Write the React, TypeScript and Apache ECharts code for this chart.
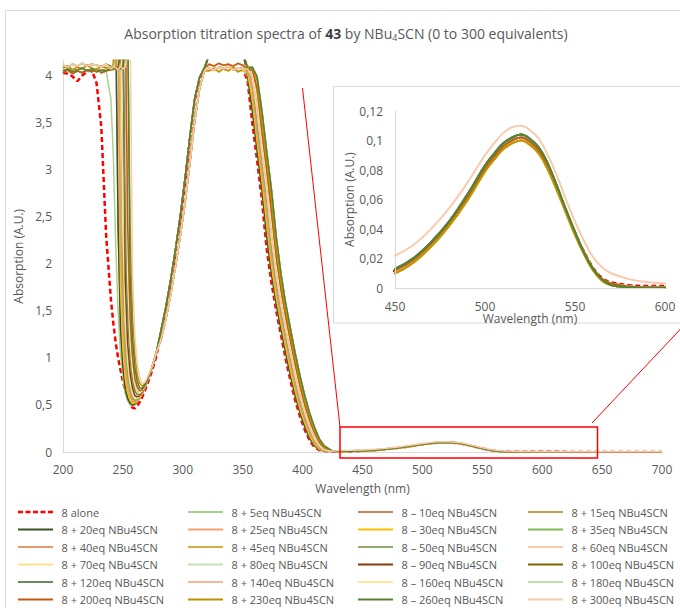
import { useEffect, useRef } from 'react';
import * as echarts from 'echarts';

// Wavelength grids (nm) for each spectral segment
const WL_P = [200, 204, 208, 212, 216, 220, 224, 228, 232, 236];
const WL_E = [240, 242, 244, 246, 248, 250, 252, 254, 256, 258, 260, 262, 264, 266, 268, 270, 274, 278];
const WL_B = [282, 286, 290, 294, 298, 302, 306, 310, 314, 318];
const WL_T = [322, 326, 330, 334, 338, 342, 346, 350];
const WL_C = [354, 358, 362, 366, 370, 374, 378, 382, 386, 390, 394, 398, 402, 406, 410, 414, 418, 424];
const WL_H = [430, 440, 450, 460, 470, 480, 490, 500, 505, 510, 515, 520, 525, 530, 535, 540, 545, 550, 555, 560, 565, 570, 580, 590, 600, 650, 700];

// 200-236 nm saturated plateau readings
const PLAT_A = [4.08, 4.1, 4.06, 4.09, 4.07, 4.11, 4.08, 4.06, 4.1, 4.08];
const PLAT_B = [4.05, 4.07, 4.04, 4.06, 4.08, 4.05, 4.07, 4.04, 4.06, 4.05];
const PLAT_C = [4.11, 4.09, 4.12, 4.1, 4.13, 4.1, 4.12, 4.11, 4.09, 4.12];
const PLAT_D = [4.03, 4.06, 4.02, 4.05, 4.03, 4.06, 4.04, 4.07, 4.03, 4.05];
const ALONE_P = [4.03, 4.02, 3.99, 3.94, 4.0, 4.04, 4.06, 3.92, 3.45, 2.3];

// 240-278 nm: falling edge and minimum
const ALONE_E = [1.62, 1.37, 1.16, 1.0, 0.87, 0.75, 0.66, 0.58, 0.52, 0.47, 0.465, 0.49, 0.53, 0.58, 0.64, 0.71, 0.85, 1.02];
const F_5EQ = [3.75, 3.15, 2.2, 1.5, 1.05, 0.8, 0.62, 0.54, 0.5, 0.49, 0.5, 0.53, 0.57, 0.62, 0.68, 0.745, 0.882, 1.06];
const F246 = [4.08, 4.1, 4.6, 2.4, 1.32, 0.91, 0.67, 0.57, 0.52, 0.5, 0.51, 0.535, 0.57, 0.617, 0.675, 0.744, 0.882, 1.06];
const F247 = [4.06, 4.09, 4.25, 4.6, 1.77, 1.1, 0.78, 0.63, 0.55, 0.515, 0.52, 0.54, 0.572, 0.618, 0.676, 0.745, 0.882, 1.06];
const F248 = [4.1, 4.07, 4.09, 4.6, 2.4, 1.35, 0.93, 0.7, 0.6, 0.54, 0.53, 0.55, 0.575, 0.62, 0.677, 0.745, 0.883, 1.06];
const F249 = [4.08, 4.06, 4.1, 4.25, 4.6, 1.8, 1.12, 0.81, 0.66, 0.57, 0.545, 0.56, 0.58, 0.622, 0.679, 0.746, 0.883, 1.06];
const F250 = [4.09, 4.07, 4.1, 4.08, 4.6, 2.4, 1.37, 0.96, 0.73, 0.62, 0.57, 0.57, 0.59, 0.625, 0.68, 0.747, 0.884, 1.06];
const F251 = [4.07, 4.1, 4.06, 4.09, 4.25, 4.6, 1.82, 1.15, 0.84, 0.68, 0.6, 0.585, 0.6, 0.63, 0.682, 0.749, 0.884, 1.06];
const F252 = [4.08, 4.06, 4.09, 4.07, 4.1, 4.6, 2.4, 1.4, 0.99, 0.75, 0.65, 0.61, 0.61, 0.64, 0.685, 0.75, 0.885, 1.062];
const F253 = [4.1, 4.08, 4.07, 4.09, 4.06, 4.25, 4.6, 1.85, 1.18, 0.86, 0.71, 0.64, 0.625, 0.65, 0.69, 0.752, 0.886, 1.063];
const F254 = [4.06, 4.09, 4.07, 4.1, 4.08, 4.09, 4.6, 2.4, 1.43, 1.01, 0.78, 0.69, 0.65, 0.66, 0.7, 0.755, 0.887, 1.064];
const F255 = [4.08, 4.1, 4.06, 4.08, 4.07, 4.1, 4.25, 4.6, 1.88, 1.2, 0.89, 0.75, 0.68, 0.675, 0.71, 0.76, 0.889, 1.065];
const F256 = [4.09, 4.07, 4.1, 4.06, 4.09, 4.08, 4.1, 4.6, 2.4, 1.45, 1.04, 0.82, 0.73, 0.7, 0.72, 0.77, 0.89, 1.065];
const F257 = [4.07, 4.1, 4.08, 4.06, 4.1, 4.07, 4.09, 4.25, 4.6, 1.9, 1.23, 0.93, 0.79, 0.73, 0.735, 0.78, 0.892, 1.066];

// 282-318 nm rising edge
const RISE_A = [1.3, 1.55, 1.84, 2.16, 2.52, 2.92, 3.36, 3.76, 3.98, 4.08];
const RISE_B = [1.2, 1.42, 1.68, 1.98, 2.3, 2.66, 3.08, 3.52, 3.86, 4.05];
const RISE_ALONE = [1.28, 1.52, 1.8, 2.12, 2.48, 2.88, 3.32, 3.74, 3.97, 4.06];

// 322-350 nm saturated top
const TOP_A = [4.08, 4.06, 4.09, 4.07, 4.1, 4.06, 4.08, 4.07];
const TOP_B = [4.05, 4.08, 4.04, 4.07, 4.05, 4.09, 4.04, 4.06];
const TOP_C = [4.12, 4.1, 4.13, 4.11, 4.12, 4.1, 4.13, 4.11];
const TOP_D = [4.22, 4.35, 4.3, 4.4, 4.32, 4.38, 4.3, 4.25];

// 354-424 nm falling edge
const R_S0 = [3.95, 3.5, 3.1, 2.68, 2.16, 1.8, 1.5, 1.24, 0.98, 0.75, 0.54, 0.37, 0.23, 0.12, 0.05, 0.02, 0.01, 0.006];
const R_S1 = [3.99, 3.63, 3.2, 2.79, 2.29, 1.89, 1.57, 1.3, 1.04, 0.8, 0.59, 0.41, 0.26, 0.14, 0.065, 0.025, 0.011, 0.006];
const R_S2 = [4.03, 3.75, 3.3, 2.9, 2.42, 1.98, 1.64, 1.37, 1.11, 0.86, 0.64, 0.45, 0.3, 0.17, 0.08, 0.03, 0.013, 0.007];
const R_S3 = [4.06, 3.86, 3.4, 3.0, 2.55, 2.07, 1.72, 1.43, 1.17, 0.92, 0.69, 0.49, 0.33, 0.2, 0.1, 0.04, 0.016, 0.007];
const R_S4 = [4.08, 3.95, 3.5, 3.1, 2.68, 2.16, 1.8, 1.5, 1.24, 0.98, 0.75, 0.54, 0.37, 0.23, 0.12, 0.05, 0.02, 0.008];
const R_S5 = [4.07, 3.99, 3.63, 3.2, 2.79, 2.29, 1.89, 1.57, 1.3, 1.04, 0.8, 0.59, 0.41, 0.26, 0.14, 0.065, 0.025, 0.009];
const R_S6 = [4.09, 4.03, 3.75, 3.3, 2.9, 2.42, 1.98, 1.64, 1.37, 1.11, 0.86, 0.64, 0.45, 0.3, 0.17, 0.08, 0.03, 0.01];
const R_S7 = [4.06, 4.06, 3.86, 3.4, 3.0, 2.55, 2.07, 1.72, 1.43, 1.17, 0.92, 0.69, 0.49, 0.33, 0.2, 0.1, 0.04, 0.011];
const R_S8 = [4.1, 4.08, 3.95, 3.5, 3.1, 2.68, 2.16, 1.8, 1.5, 1.24, 0.98, 0.75, 0.54, 0.37, 0.23, 0.12, 0.05, 0.013];
const R_S9 = [4.07, 4.09, 3.99, 3.63, 3.2, 2.79, 2.29, 1.89, 1.57, 1.3, 1.04, 0.8, 0.59, 0.41, 0.26, 0.14, 0.065, 0.016];

// 430-700 nm visible band
const HUMP_MAIN = [0.006, 0.008, 0.012, 0.019, 0.03, 0.044, 0.061, 0.081, 0.089, 0.096, 0.1, 0.102, 0.099, 0.093, 0.082, 0.068, 0.052, 0.037, 0.024, 0.013, 0.006, 0.003, 0.001, 0.0005, 0.0003, 0.0002, 0.0002];
const HUMP_HIGH = [0.007, 0.009, 0.013, 0.02, 0.031, 0.045, 0.063, 0.083, 0.091, 0.098, 0.102, 0.104, 0.101, 0.095, 0.084, 0.069, 0.053, 0.038, 0.024, 0.013, 0.006, 0.002, 0.0005, 0.0002, 0.0001, 0.0001, 0.0001];
const HUMP_LOW = [0.005, 0.007, 0.01, 0.017, 0.028, 0.042, 0.059, 0.079, 0.087, 0.094, 0.098, 0.1, 0.097, 0.091, 0.08, 0.066, 0.051, 0.036, 0.023, 0.012, 0.005, 0.002, 0.0005, 0.0002, 0.0001, 0.0001, 0.0001];
const HUMP_ALONE = [0.006, 0.008, 0.012, 0.019, 0.03, 0.044, 0.061, 0.081, 0.089, 0.096, 0.1, 0.102, 0.099, 0.093, 0.082, 0.068, 0.052, 0.037, 0.025, 0.014, 0.007, 0.004, 0.002, 0.0015, 0.0015, 0.001, 0.001];
const HUMP_300 = [0.015, 0.018, 0.022, 0.029, 0.04, 0.054, 0.071, 0.09, 0.098, 0.105, 0.109, 0.11, 0.107, 0.101, 0.09, 0.076, 0.06, 0.045, 0.032, 0.021, 0.014, 0.01, 0.006, 0.004, 0.003, 0.002, 0.002];

const NAMES = [
  '8 alone', '8 + 5eq NBu4SCN', '8 – 10eq NBu4SCN', '8 + 15eq NBu4SCN',
  '8 + 20eq NBu4SCN', '8 + 25eq NBu4SCN', '8 – 30eq NBu4SCN', '8 + 35eq NBu4SCN',
  '8 + 40eq NBu4SCN', '8 + 45eq NBu4SCN', '8 – 50eq NBu4SCN', '8 + 60eq NBu4SCN',
  '8 + 70eq NBu4SCN', '8 + 80eq NBu4SCN', '8 – 90eq NBu4SCN', '8 + 100eq NBu4SCN',
  '8 + 120eq NBu4SCN', '8 + 140eq NBu4SCN', '8 – 160eq NBu4SCN', '8 + 180eq NBu4SCN',
  '8 + 200eq NBu4SCN', '8 + 230eq NBu4SCN', '8 – 260eq NBu4SCN', '8 + 300eq NBu4SCN',
];
const COLORS = [
  '#FF0000', '#A9D18E', '#C4865E', '#BF9F50',
  '#375623', '#F5A26E', '#FFC000', '#7DBB55',
  '#E69A6B', '#D8AD45', '#8FAA72', '#F8CBAD',
  '#FFE08A', '#C5E0B4', '#843C0C', '#7F6000',
  '#6F8A5A', '#F4B898', '#FFE699', '#BFDDA8',
  '#C55A11', '#BF9000', '#548235', '#F8CBAD',
];
// segments used by each series: plateau, falling edge, rise, top, falling edge 2, visible band
const PARTS: number[][][] = [
  [ALONE_P, ALONE_E, RISE_ALONE, TOP_A, R_S0, HUMP_ALONE],
  [PLAT_B, F_5EQ, RISE_A, TOP_B, R_S1, HUMP_MAIN],
  [PLAT_A, F246, RISE_A, TOP_A, R_S2, HUMP_MAIN],
  [PLAT_C, F247, RISE_B, TOP_C, R_S3, HUMP_MAIN],
  [PLAT_D, F246, RISE_A, TOP_D, R_S1, HUMP_HIGH],
  [PLAT_B, F248, RISE_B, TOP_B, R_S4, HUMP_LOW],
  [PLAT_A, F247, RISE_A, TOP_A, R_S2, HUMP_LOW],
  [PLAT_C, F249, RISE_B, TOP_C, R_S5, HUMP_MAIN],
  [PLAT_D, F248, RISE_A, TOP_B, R_S3, HUMP_LOW],
  [PLAT_A, F250, RISE_B, TOP_A, R_S6, HUMP_LOW],
  [PLAT_B, F249, RISE_A, TOP_D, R_S4, HUMP_HIGH],
  [PLAT_C, F251, RISE_B, TOP_C, R_S7, HUMP_MAIN],
  [PLAT_D, F250, RISE_A, TOP_B, R_S5, HUMP_LOW],
  [PLAT_A, F252, RISE_B, TOP_A, R_S8, HUMP_MAIN],
  [PLAT_B, F251, RISE_A, TOP_D, R_S6, HUMP_MAIN],
  [PLAT_C, F253, RISE_B, TOP_D, R_S9, HUMP_MAIN],
  [PLAT_D, F252, RISE_A, TOP_D, R_S7, HUMP_HIGH],
  [PLAT_A, F254, RISE_B, TOP_C, R_S8, HUMP_MAIN],
  [PLAT_B, F253, RISE_A, TOP_B, R_S6, HUMP_LOW],
  [PLAT_C, F255, RISE_B, TOP_A, R_S9, HUMP_MAIN],
  [PLAT_D, F254, RISE_A, TOP_C, R_S7, HUMP_MAIN],
  [PLAT_A, F256, RISE_B, TOP_B, R_S8, HUMP_LOW],
  [PLAT_B, F255, RISE_A, TOP_D, R_S9, HUMP_HIGH],
  [PLAT_C, F257, RISE_B, TOP_A, R_S5, HUMP_300],
];

const FONT = 'Open Sans';
const GREY = '#595959';
const AXIS = '#D9D9D9';
const ICON_SOLID = 'path://M0,0H35V1.8H0Z';
const ICON_DASH = 'path://M0,0H5V2.5H0Z M7.5,0H12.5V2.5H7.5Z M15,0H20V2.5H15Z M22.5,0H27.5V2.5H22.5Z M30,0H35V2.5H30Z';

const fmtComma = (v: number) => String(Math.round(v * 100) / 100).replace('.', ',');

export default function App() {
  const ref = useRef<HTMLDivElement>(null);
  useEffect(() => {
    document.body.style.margin = '0';
    if (!ref.current) return;
    const chart = echarts.init(ref.current, undefined, { renderer: 'svg' });
    const WL = [...WL_P, ...WL_E, ...WL_B, ...WL_T, ...WL_C, ...WL_H];
    const series: any[] = [];
    NAMES.forEach((name, i) => {
      const vals = PARTS[i].flat();
      const isAlone = i === 0;
      const ls = {
        color: COLORS[i],
        width: isAlone ? 2.5 : 1.5,
        type: isAlone ? [5, 3] : 'solid',
      };
      series.push({
        type: 'line', name, xAxisIndex: 0, yAxisIndex: 0,
        data: WL.map((x, k) => [x, vals[k]]),
        symbol: 'none', lineStyle: ls, itemStyle: { color: COLORS[i] },
        clip: true, z: 2,
      });
      const hump = PARTS[i][5];
      series.push({
        type: 'line', name, xAxisIndex: 1, yAxisIndex: 1,
        data: WL_H.map((x, k) => [x, hump[k]]),
        symbol: 'none', smooth: 0.4,
        lineStyle: { ...ls, width: isAlone ? 2.2 : 2 }, itemStyle: { color: COLORS[i] },
        clip: true, z: 4,
      });
    });

    // one legend per entry, laid out as a 4-column grid
    const legends = NAMES.map((n, i) => {
      const col = i % 4;
      const row = Math.floor(i / 4);
      return {
        orient: 'horizontal', left: 18 + col * 170, top: 513.5 + row * 17.5 - 7,
        padding: 0, itemWidth: 35, itemHeight: 14, selectedMode: false,
        textStyle: { color: GREY, fontSize: 11, fontFamily: FONT, padding: [0, 0, 0, 3.5] },
        data: [{ name: n, icon: i === 0 ? ICON_DASH : ICON_SOLID, itemStyle: { color: COLORS[i], opacity: 1 } }],
      };
    });

    chart.setOption({
      animation: false,
      textStyle: { fontFamily: FONT },
      grid: [
        { left: 63, right: 18, top: 60.5, bottom: 156 },
        { left: 395, right: 15, top: 111, bottom: 320 },
      ],
      xAxis: [
        {
          type: 'value', gridIndex: 0, min: 200, max: 700, interval: 50,
          axisLine: { lineStyle: { color: AXIS, width: 1 } }, axisTick: { show: false },
          splitLine: { show: false },
          axisLabel: { color: GREY, fontSize: 12, margin: 11, fontFamily: FONT },
          name: 'Wavelength (nm)', nameLocation: 'middle', nameGap: 30,
          nameTextStyle: { color: GREY, fontSize: 12, fontFamily: FONT },
        },
        {
          type: 'value', gridIndex: 1, min: 450, max: 600, interval: 50, z: 6,
          axisLine: { lineStyle: { color: AXIS, width: 1 } }, axisTick: { show: false },
          splitLine: { show: false },
          axisLabel: { color: GREY, fontSize: 12, margin: 12, fontFamily: FONT },
          name: 'Wavelength (nm)', nameLocation: 'middle', nameGap: 16,
          nameTextStyle: { color: GREY, fontSize: 12, fontFamily: FONT },
        },
      ],
      yAxis: [
        {
          type: 'value', gridIndex: 0, min: 0, max: 4.16, interval: 0.5,
          axisLine: { show: true, lineStyle: { color: AXIS, width: 1 } }, axisTick: { show: false },
          splitLine: { show: false },
          axisLabel: {
            color: GREY, fontSize: 12, margin: 11, fontFamily: FONT, showMaxLabel: false,
            formatter: (v: number) => (Math.abs(v * 2 - Math.round(v * 2)) < 1e-6 ? fmtComma(v) : ''),
          },
          name: 'Absorption (A.U.)', nameLocation: 'middle', nameGap: 31,
          nameTextStyle: { color: GREY, fontSize: 12, fontFamily: FONT },
        },
        {
          type: 'value', gridIndex: 1, min: 0, max: 0.12, interval: 0.02, z: 6,
          axisLine: { show: true, lineStyle: { color: AXIS, width: 1 } }, axisTick: { show: false },
          splitLine: { show: false },
          axisLabel: { color: GREY, fontSize: 12, margin: 12, fontFamily: FONT, formatter: fmtComma },
          name: 'Absorption (A.U.)', nameLocation: 'middle', nameGap: 38,
          nameTextStyle: { color: GREY, fontSize: 12, fontFamily: FONT },
        },
      ],
      legend: legends,
      graphic: [
        {
          type: 'rect', z: -2, silent: true,
          shape: { x: 5.5, y: 10.5, width: 720, height: 640 },
          style: { fill: 'none', stroke: AXIS, lineWidth: 1 },
        },
        {
          type: 'rect', z: -1, silent: true,
          shape: { x: 333.5, y: 86.5, width: 380, height: 236.5 },
          style: { fill: '#FFFFFF', stroke: AXIS, lineWidth: 1 },
        },
        {
          type: 'text', z: 10, silent: true,
          style: {
            x: 346, y: 33, align: 'center', verticalAlign: 'middle',
            text: '{a|Absorption titration spectra of }{b|43}{a| by NBu}{s|4}{a|SCN (0 to 300 equivalents)}',
            rich: {
              a: { fontSize: 14, fontFamily: FONT, fill: GREY, lineHeight: 18 },
              b: { fontSize: 14, fontFamily: FONT, fill: '#404040', fontWeight: 'bold', lineHeight: 18 },
              s: { fontSize: 9, fontFamily: FONT, fill: GREY, lineHeight: 10, verticalAlign: 'bottom' },
            },
          },
        },
        {
          type: 'line', z: 100, silent: true,
          shape: { x1: 302.5, y1: 88, x2: 340, y2: 427 },
          style: { stroke: '#FF0000', lineWidth: 1 },
        },
        {
          type: 'line', z: 100, silent: true,
          shape: { x1: 592, y1: 423, x2: 690, y2: 319 },
          style: { stroke: '#FF0000', lineWidth: 1 },
        },
        {
          type: 'rect', z: 100, silent: true,
          shape: { x: 340, y: 427, width: 257.5, height: 31 },
          style: { fill: 'none', stroke: '#FF0000', lineWidth: 1.5 },
        },
      ],
      series,
    });
    return () => chart.dispose();
  }, []);
  return <div ref={ref} style={{ width: 680, height: 608 }} />;
}
